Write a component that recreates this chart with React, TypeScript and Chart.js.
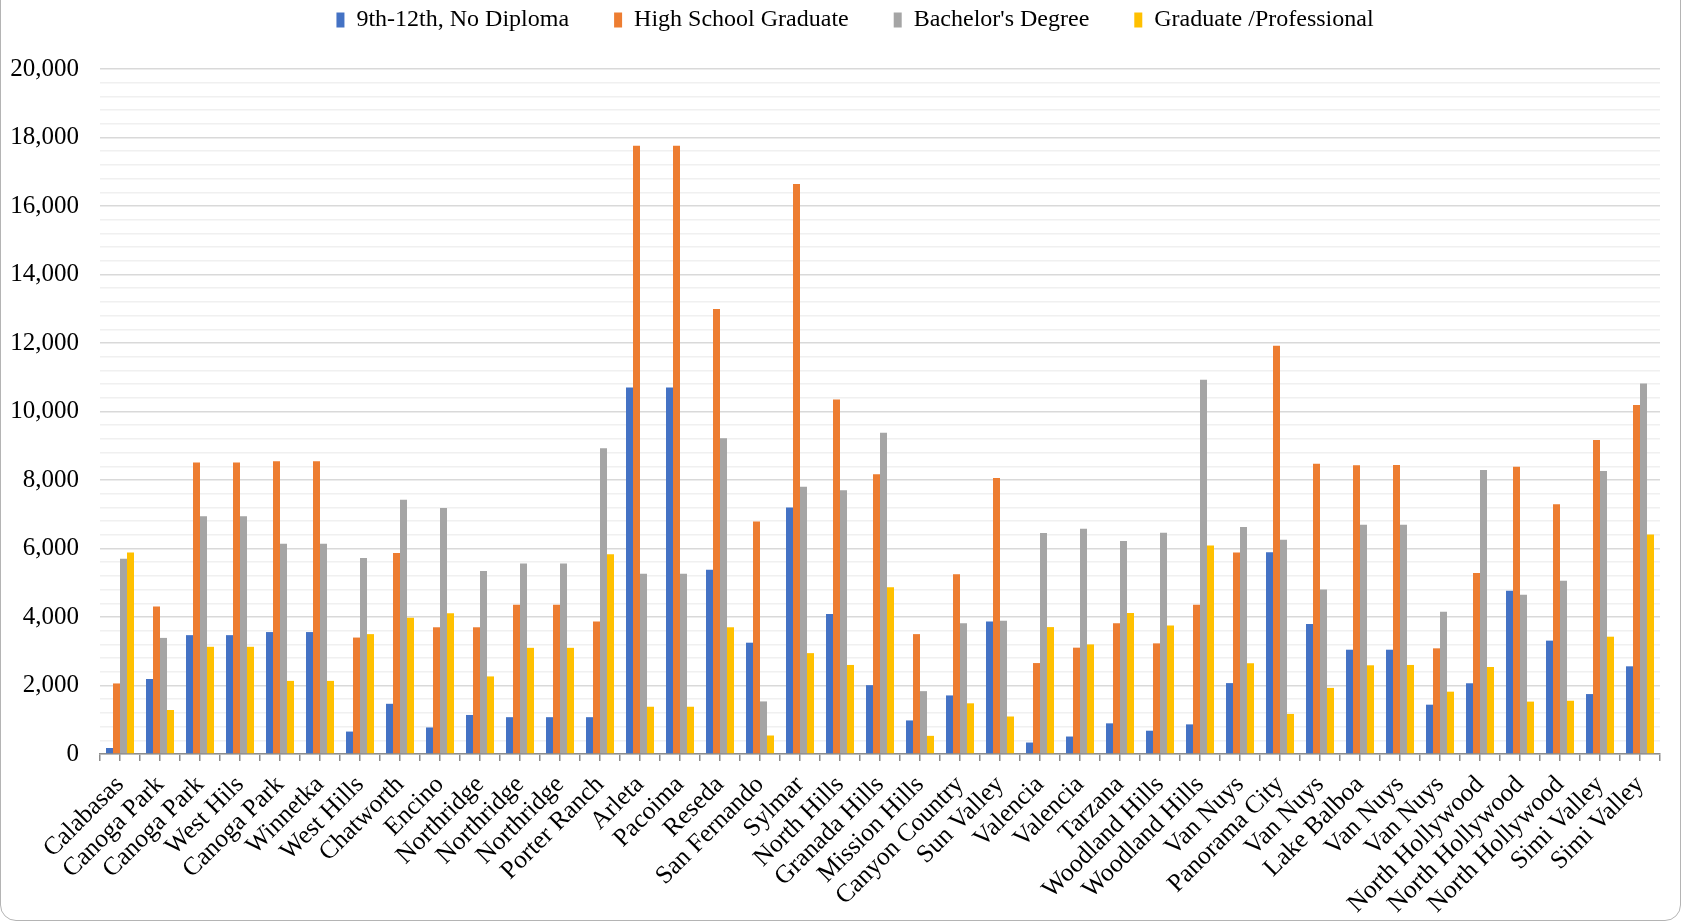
import React, { useEffect, useRef } from 'react';
import { Chart, registerables } from 'chart.js';

Chart.register(...registerables);

const categories = [
  'Calabasas', 'Canoga Park', 'Canoga Park', 'West Hils', 'Canoga Park', 'Winnetka', 'West Hills',
  'Chatworth', 'Encino', 'Northridge', 'Northridge', 'Northridge', 'Porter Ranch', 'Arleta',
  'Pacoima', 'Reseda', 'San Fernando', 'Sylmar', 'North Hills', 'Granada Hills', 'Mission Hills',
  'Canyon Country', 'Sun Valley', 'Valencia', 'Valencia', 'Tarzana', 'Woodland Hills',
  'Woodland Hills', 'Van Nuys', 'Panorama City', 'Van Nuys', 'Lake Balboa', 'Van Nuys', 'Van Nuys',
  'North Hollywood', 'North Hollywood', 'North Hollywood', 'Simi Valley', 'Simi Valley',
];

const seriesNames = ['9th-12th, No Diploma', 'High School Graduate', "Bachelor's Degree", 'Graduate /Professional'];

const noDiploma = [
  175, 2190, 3470, 3470, 3560, 3560, 655, 1466, 775, 1140, 1075, 1075, 1075, 10700,
  10700, 5380, 3250, 7200, 4085, 2010, 980, 1710, 3865, 335, 510, 895, 680,
  865, 2070, 5890, 3795, 3045, 3045, 1440, 2065, 4770, 3310, 1750, 2560,
];
const highSchool = [
  2060, 4310, 8510, 8510, 8550, 8550, 3400, 5870, 3700, 3700, 4360, 4360, 3870, 17760,
  17760, 12990, 6790, 16640, 10350, 8170, 3500, 5250, 8055, 2655, 3105, 3815, 3230,
  4360, 5880, 11920, 8475, 8430, 8435, 3085, 5285, 8390, 7290, 9165, 10190,
];
const bachelors = [
  5700, 3390, 6940, 6940, 6140, 6140, 5720, 7420, 7180, 5340, 5565, 5565, 8930, 5260,
  5260, 9220, 1535, 7800, 7700, 9380, 1835, 3820, 3890, 6450, 6575, 6220, 6460,
  10930, 6625, 6255, 4800, 6690, 6695, 4155, 8290, 4650, 5060, 8260, 10820,
];
const graduate = [
  5880, 1285, 3130, 3130, 2135, 2135, 3500, 3975, 4110, 2265, 3100, 3100, 5830, 1380,
  1380, 3700, 540, 2945, 2600, 4870, 530, 1480, 1095, 3705, 3200, 4115, 3755,
  6090, 2650, 1170, 1930, 2590, 2600, 1820, 2540, 1530, 1555, 3425, 6410,
];

const seriesColors = ['#4472C4', '#ED7D31', '#A5A5A5', '#FFC000'];

const Y_MIN = 0;
const Y_MAX = 20000;
const Y_MINOR_STEP = 400;
const Y_MAJOR_STEP = 2000;

const FONT = "'Liberation Serif', 'Times New Roman', serif";

export default function App() {
  const ref = useRef<HTMLCanvasElement>(null);

  useEffect(() => {
    if (!ref.current) return;
    const legendSizer = {
      id: 'legendSizer',
      beforeUpdate(chart: any) {
        const lg = chart.legend;
        if (lg && !lg.__sized) {
          const origFit = lg.fit;
          lg.fit = function () {
            origFit.call(this);
            this.height = 106;
          };
          const origDraw = lg.draw;
          lg.draw = function (...args: any[]) {
            const c = this.ctx;
            c.save();
            c.translate(25, 0);
            origDraw.apply(this, args);
            c.restore();
          };
          lg.__sized = true;
        }
      },
    };
    const values = [noDiploma, highSchool, bachelors, graduate];
    const chart = new Chart(ref.current, {
      type: 'bar',
      data: {
        labels: categories,
        datasets: values.map((d, i) => ({
          label: seriesNames[i],
          data: d,
          backgroundColor: seriesColors[i],
          borderWidth: 0,
          categoryPercentage: 0.7,
          barPercentage: 1.0,
          xAxisID: 'x',
        })),
      },
      options: {
        responsive: true,
        maintainAspectRatio: false,
        animation: false,
        layout: { padding: { top: -37, left: 0, right: 21, bottom: 0 } },
        plugins: {
          legend: {
            position: 'top',
            labels: {
              font: { family: FONT, size: 24 },
              color: '#000',
              boxWidth: 8,
              boxHeight: 15,
              padding: 45,
            },
          },
          tooltip: { enabled: false },
        },
        scales: {
          x: {
            type: 'category',
            position: 'bottom',
            weight: 1,
            offset: true,
            grid: {
              offset: true,
              drawOnChartArea: false,
              drawTicks: true,
              tickLength: 7,
              color: '#8c8c8c',
              lineWidth: 1.5,
            },
            border: { display: true, color: '#8c8c8c', width: 1.5 },
            ticks: {
              autoSkip: false,
              maxRotation: 45,
              minRotation: 45,
              padding: 9,
              color: '#000',
              font: { family: FONT, size: 25.5 },
            },
            afterFit: (s: any) => {
              s.height = 167;
            },
          },
          x2: {
            type: 'category',
            position: 'bottom',
            weight: 0,
            offset: true,
            grid: {
              offset: false,
              drawOnChartArea: false,
              drawTicks: true,
              tickLength: 7,
              color: '#8c8c8c',
              lineWidth: 1.5,
            },
            border: { display: false },
            ticks: { display: false },
            afterFit: (s: any) => {
              s.height = 0;
            },
          },
          y: {
            min: Y_MIN,
            max: Y_MAX,
            border: { display: false },
            grid: {
              drawTicks: false,
              color: (ctx: any) => (ctx.tick && ctx.tick.value % Y_MAJOR_STEP === 0 ? '#d9d9d9' : '#f0f0f0'),
              lineWidth: 1.5,
            },
            ticks: {
              stepSize: Y_MINOR_STEP,
              autoSkip: false,
              padding: 21,
              color: '#000',
              font: { family: FONT, size: 25 },
              callback: (v: any) => (Number(v) % Y_MAJOR_STEP === 0 ? Number(v).toLocaleString('en-US') : ''),
            },
            afterFit: (s: any) => {
              s.width = 100;
            },
          },
        },
      },
      plugins: [legendSizer],
    });
    return () => chart.destroy();
  }, []);

  return (
    <div
      style={{
        position: 'fixed',
        left: 0,
        top: 0,
        width: 1681,
        height: 921,
        background: '#fff',
      }}
    >
      <canvas ref={ref} />
      <div
        style={{
          position: 'absolute',
          left: 0,
          top: -20,
          width: 1681,
          height: 941,
          boxSizing: 'border-box',
          border: '1px solid #b4b4b4',
          borderRadius: 16,
          pointerEvents: 'none',
        }}
      />
    </div>
  );
}
